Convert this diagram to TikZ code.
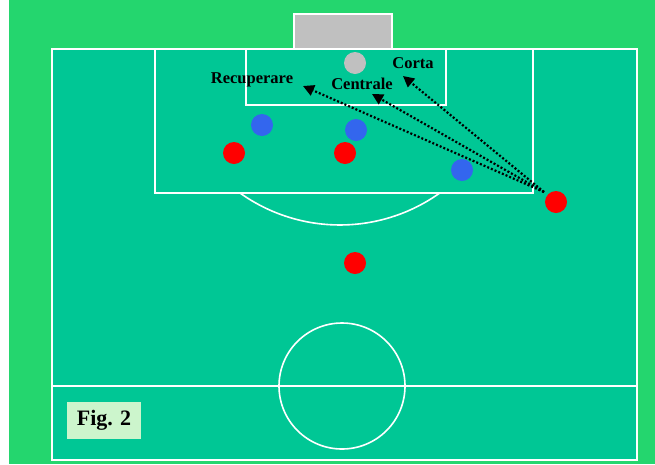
\documentclass[tikz,border=0pt]{standalone}
\usepackage{fontspec}
\setmainfont{Liberation Serif}
\usetikzlibrary{
  arrows.meta,
  positioning
}
\definecolor{fdOuter}{HTML}{24D66E}
\definecolor{fdPitch}{HTML}{00C795}
\definecolor{fdGoal}{HTML}{C0C0C0}
\definecolor{fdRed}{HTML}{FF0000}
\definecolor{fdBlue}{HTML}{3366EE}
\definecolor{fdTag}{HTML}{CCF5CC}
\tikzset{
  pline/.style={draw=white, line width=1.6pt},
  player/.style={circle, minimum size=22pt, inner sep=0pt},
  attk/.style={player, fill=fdRed},
  defn/.style={player, fill=fdBlue},
  ballnode/.style={player, fill=fdGoal},
  pass/.style={-{Triangle[length=11pt, width=11pt]}, line width=2.2pt,
    dash pattern=on 2pt off 2pt, black},
  lbl/.style={font=\fontsize{16.5}{16.5}\selectfont\bfseries, inner sep=0pt, anchor=base},
  figtag/.style={fill=fdTag, font=\fontsize{22}{22}\selectfont\bfseries,
    minimum width=74pt, minimum height=37pt, inner sep=0pt}
}

\begin{document}
\begin{tikzpicture}[x=1pt, y=-1pt]
  \useasboundingbox (0,0) rectangle (655,464);
  \fill[white] (0,0) rectangle (9,464);
  \fill[fdOuter] (9,0) rectangle (655,464);
  % pitch and markings
  \filldraw[fill=fdPitch, pline] (52,49) rectangle (637,460);
  \draw[pline] (155,49) rectangle (533,193);
  \draw[pline] (246,49) rectangle (446,105);
  \filldraw[fill=fdGoal, pline] (294,14) rectangle (392,49);
  \draw[pline] (52,386) -- (637,386);
  \draw[pline] (342,386) circle[radius=63];
  \draw[pline] (240,193) arc[start angle=125.5, end angle=54.5, radius=172];
  % ball and players
  \node[ballnode] (ball) at (355,63) {};
  \node[defn] (b1) at (262,125) {};
  \node[defn] (b2) at (356,130) {};
  \node[defn] (b3) at (462,170) {};
  \node[attk] (r1) at (234,153) {};
  \node[attk] (r2) at (345,153) {};
  \node[attk] (r3) at (556,202) {};
  \node[attk] (r4) at (355,263) {};
  % passes
  \coordinate (kick) at (544,192);
  \coordinate (recEnd) at (303,86);
  \coordinate (cenEnd) at (372,94);
  \coordinate (corEnd) at (403,76);
  \foreach \e in {recEnd, cenEnd, corEnd}{\draw[pass] (kick) -- (\e);}
  \node[lbl] (recLbl) at (252,83) {Recuperare};
  \node[lbl] (cenLbl) at (362,89) {Centrale};
  \node[lbl] (corLbl) at (413,68) {Corta};
  \node[figtag] (fig) at (104,420.5) {Fig. 2};
\end{tikzpicture}
\end{document}
